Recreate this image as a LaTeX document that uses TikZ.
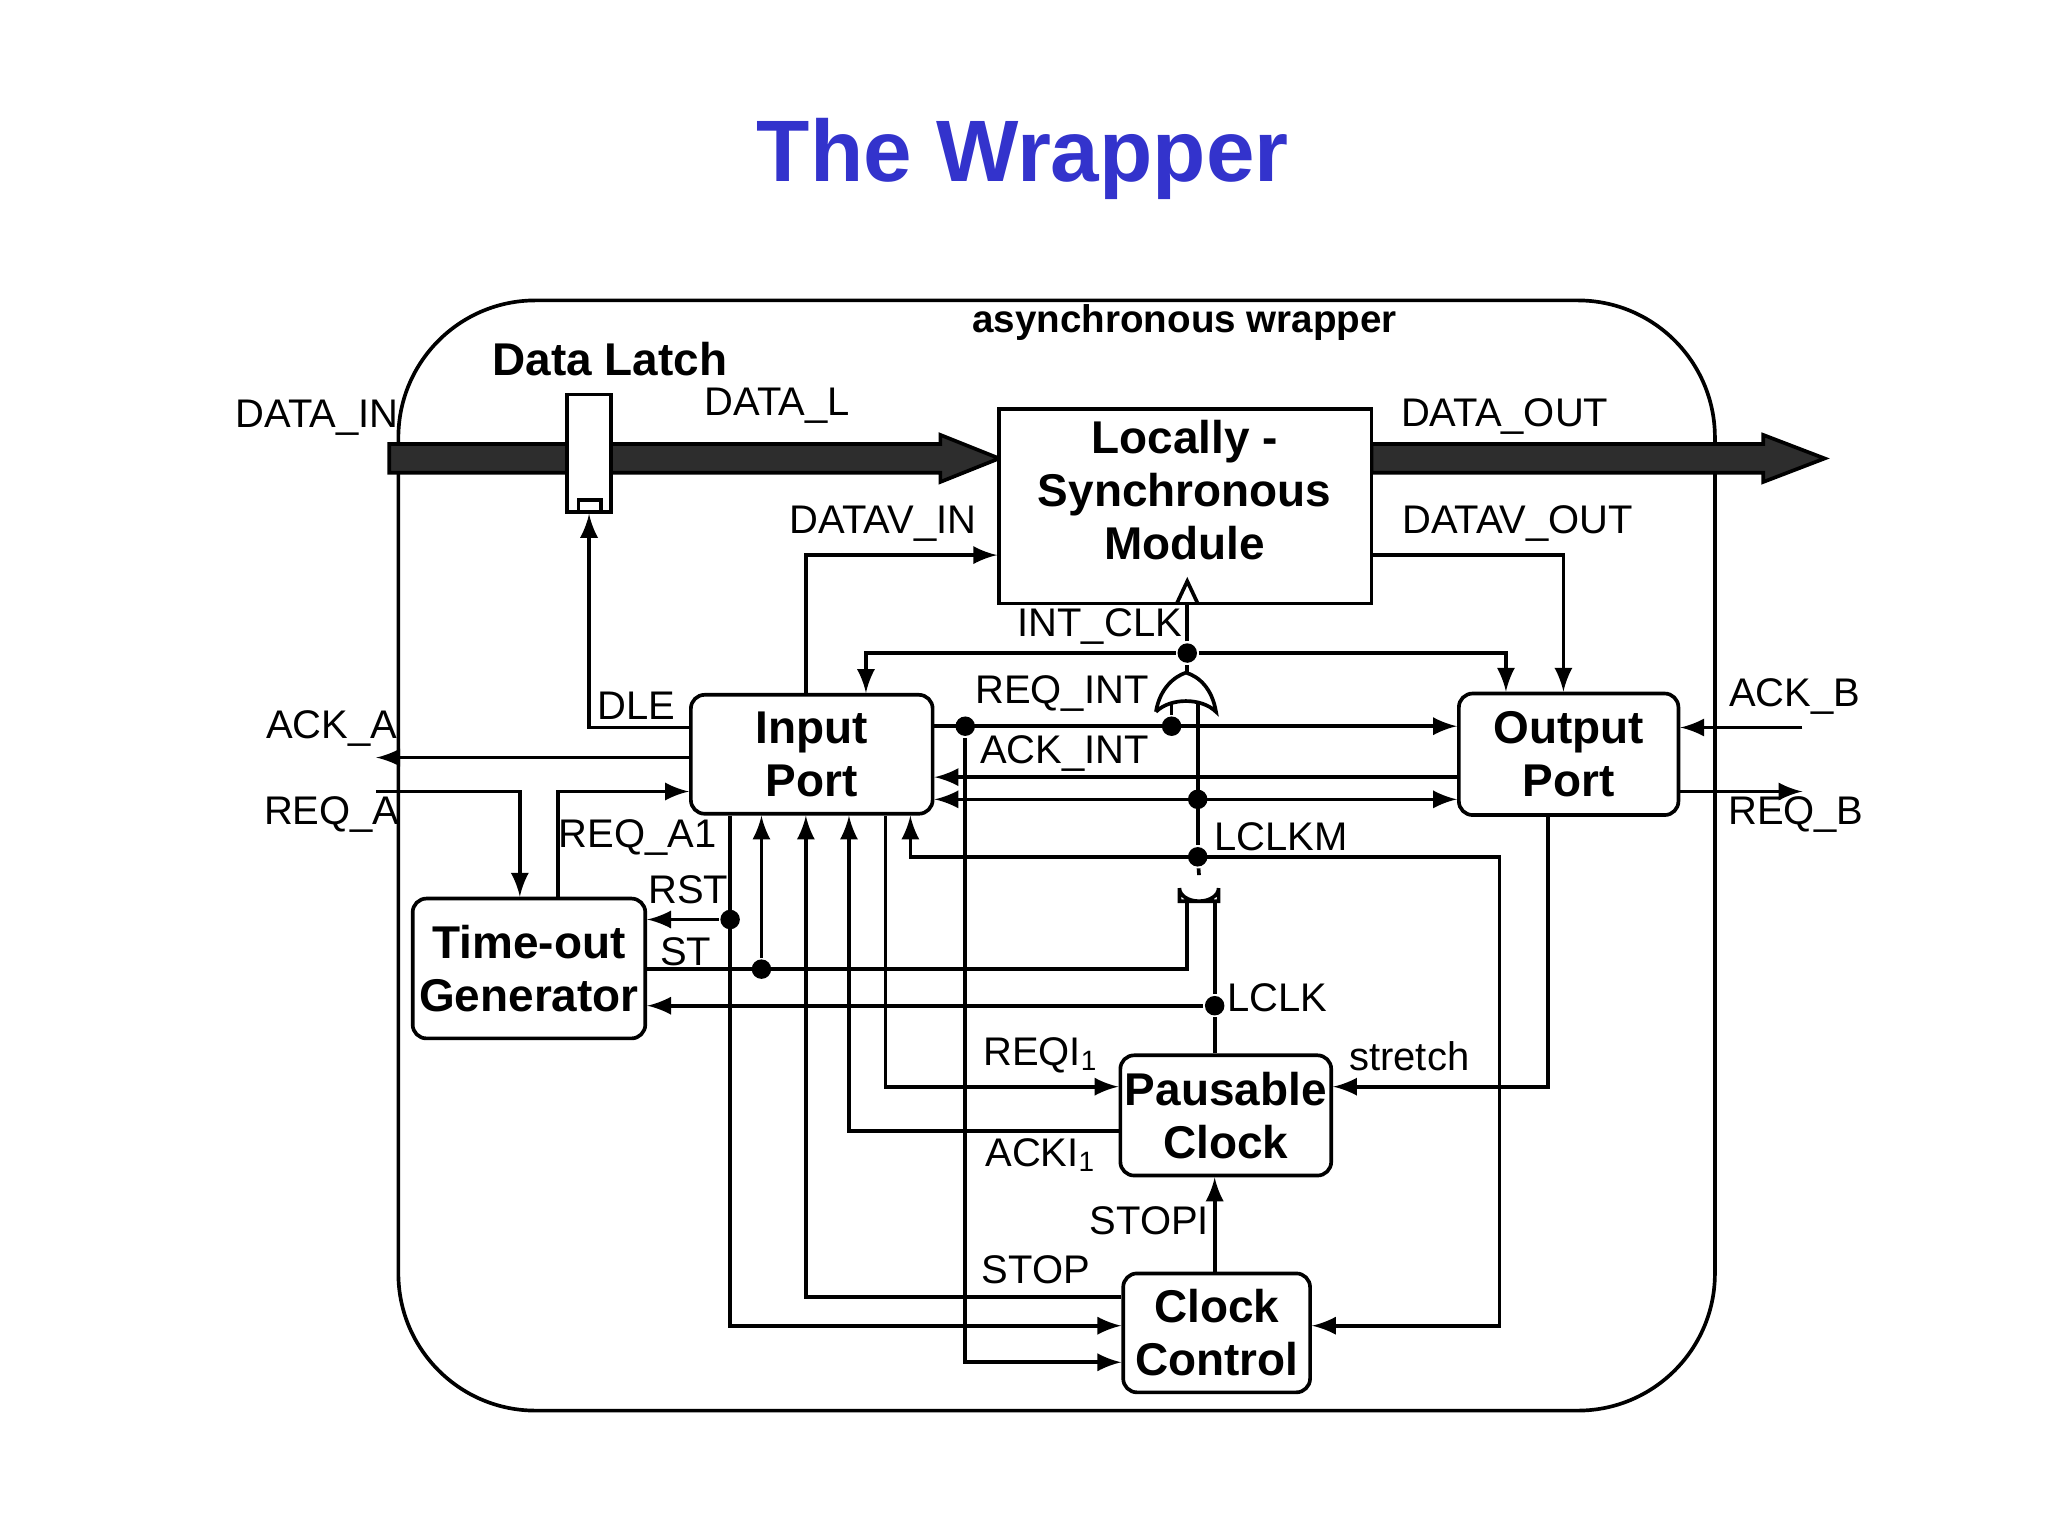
\documentclass[tikz,border=0pt]{standalone}
\usepackage{fontspec}
\setmainfont{Liberation Sans}
\usetikzlibrary{positioning}
\definecolor{titleblue}{RGB}{51,51,204}
\definecolor{busgray}{RGB}{45,45,45}
\tikzset{
  blk/.style={draw,thick,rounded corners=3pt,font=\fontsize{10}{11.5}\selectfont\bfseries,align=center,inner sep=1pt},
  lbl/.style={font=\fontsize{8.7}{10}\selectfont,inner sep=1pt},
  sig/.style={thick,-latex},
  wire/.style={thick},
  dot/.style={circle,fill,inner sep=1.5pt}
}
\begin{document}
\begin{tikzpicture}[x=0.01cm,y=-0.01cm,thick,every text node part/.style={align=center}]
    \useasboundingbox (0,0) rectangle (1568,1176);

    % --------------------------------------------------------- %
    % ------------- title and wrapper
    % --------------------------------------------------------- %
    \node[font=\fontsize{19}{22}\selectfont\bfseries,text=titleblue] (title) at (783,122) {The Wrapper};
    \draw[thick,rounded corners=1.05cm] (305,230) rectangle (1313,1080);
    \node[font=\fontsize{8.4}{10}\selectfont\bfseries] (wrap) at (907,247) {asynchronous wrapper};

    % --------------------------------------------------------- %
    % ------------- data bus
    % --------------------------------------------------------- %
    \fill[busgray,draw=black] (298,340) -- (720,340) -- (720,333) -- (765,351) -- (720,369) -- (720,362) -- (298,362) -- cycle;
    \fill[busgray,draw=black] (1050,340) -- (1350,340) -- (1350,333) -- (1397,351) -- (1350,369) -- (1350,362) -- (1050,362) -- cycle;
    \node[draw,thick,fill=white,minimum width=0.34cm,minimum height=0.9cm,inner sep=0pt] (latch) at (451,347) {};
    \draw[thick] (443,383) rectangle (460,392);
    \node[font=\fontsize{10}{12}\selectfont\bfseries] (dlatch) at (467,275) {Data Latch};
    \node[lbl] (datain) at (243,320) {DATA\_IN};
    \node[lbl] (datal) at (595,311) {DATA\_L};
    \node[lbl] (dataout) at (1152,319) {DATA\_OUT};

    % --------------------------------------------------------- %
    % ------------- blocks
    % --------------------------------------------------------- %
    \node[blk,rounded corners=0pt,minimum width=2.85cm,minimum height=1.49cm,fill=white] (lsm) at (907.5,387.5) {};
    \node[blk,draw=none] (lsmt) at (907,375) {Locally -\\Synchronous\\Module};
    \node[blk,minimum width=1.85cm,minimum height=0.91cm] (ip) at (621.5,577.5) {Input\\Port};
    \node[blk,minimum width=1.68cm,minimum height=0.93cm] (op) at (1201,577.5) {Output\\Port};
    \node[blk,align=left,minimum width=1.78cm,minimum height=1.07cm] (tog) at (405,741.5) {Time-out\\Generator};
    \node[blk,minimum width=1.57cm,minimum height=0.92cm] (pc) at (938.5,854) {Pausable\\Clock};
    \node[blk,minimum width=1.43cm,minimum height=0.91cm] (cc) at (931.5,1020.5) {Clock\\Control};

    % --------------------------------------------------------- %
    % ------------- gates
    % --------------------------------------------------------- %
    \draw[thick,fill=white] (885,545) .. controls (888,527) and (899,518) .. (908,515) .. controls (918,518) and (928,527) .. (931,545) .. controls (920,534) and (896,534) .. (885,545);
    \draw[thick,fill=white] (903,690) -- (903,680) arc (180:0:15 and 10) -- (933,690) -- cycle;
    \draw[thick] (901,462) -- (909,445) -- (917,462);

    % --------------------------------------------------------- %
    % ------------- junctions
    % --------------------------------------------------------- %
    \node[dot] (jclk) at (909,500) {};
    \node[dot] (jreq) at (739,556) {};
    \node[dot] (jor) at (897,556) {};
    \node[dot] (jmid) at (917,612) {};
    \node[dot] (jlclkm) at (917,656) {};
    \node[dot] (jrst) at (559,704) {};
    \node[dot] (jst) at (583,742) {};
    \node[dot] (jlclk) at (930,770) {};

    % --------------------------------------------------------- %
    % ------------- connectors
    % --------------------------------------------------------- %
    \draw[wire] (909,515) -- (jclk) -- (909,462);
    \draw[sig] (jclk) -| (ip.north -| 663,0);
    \draw[sig] (jclk) -| (op.north -| 1153,0);
    \draw[sig] (ip.north -| 617,0) |- (lsm.west |- 0,425);
    \draw[sig] (lsm.east |- 0,425) -| (op.north -| 1197,0);
    \draw[sig] (ip.east |- jreq) -- (op.west |- jreq);
    \draw[wire] (jor) -- (897,539);
    \draw[wire] (917,539) -- (jlclkm);
    \draw[sig] (op.west |- 0,595) -- (ip.east |- 0,595);
    \draw[sig,latex-latex] (ip.east |- jmid) -- (op.west |- jmid);
    \draw[sig] (1148,656) -- (697,656) -- (ip.south -| 697,0);
    \draw[sig] (jlclkm) -- (1148,656) |- (cc.east |- 0,1015);
    \draw[wire] (918,670) -- (jlclkm);
    \draw[sig] (ip.west |- 0,557) -| (latch.south);
    \draw[sig] (ip.west |- 0,580) -- (288,580);
    \draw[sig] (288,606) -| (tog.north -| 398,0);
    \draw[sig] (tog.north -| 427,0) |- (ip.west |- 0,606);
    \draw[sig] (jrst) -- (tog.east |- jrst);
    \draw[sig] (ip.south -| 559,0) |- (cc.west |- 0,1015);
    \draw[wire] (tog.east |- jst) -| (909,690);
    \draw[sig] (jst) -- (ip.south -| jst);
    \draw[wire] (930,690) -- (jlclk);
    \draw[sig] (jlclk) -- (tog.east |- jlclk);
    \draw[wire] (jlclk) -- (pc.north -| jlclk);
    \draw[sig] (jreq) |- (cc.west |- 0,1043);
    \draw[sig] (cc.west |- 0,993) -| (ip.south -| 617,0);
    \draw[sig] (pc.west |- 0,866) -| (ip.south -| 650,0);
    \draw[sig] (ip.south -| 678,0) |- (pc.west |- 0,832);
    \draw[sig] (op.south -| 1185,0) |- (pc.east |- 0,832);
    \draw[sig] (cc.north -| 930,0) -- (pc.south -| 930,0);
    \draw[sig] (1380,557) -- (op.east |- 0,557);
    \draw[sig] (op.east |- 0,606) -- (1380,606);

    % --------------------------------------------------------- %
    % ------------- signal labels
    % --------------------------------------------------------- %
    \node[lbl] (ldatavin) at (676,401) {DATAV\_IN};
    \node[lbl] (ldatavout) at (1162,401) {DATAV\_OUT};
    \node[lbl] (lintclk) at (842,480) {INT\_CLK};
    \node[lbl] (lreqint) at (813,531) {REQ\_INT};
    \node[lbl] (lackint) at (815,577) {ACK\_INT};
    \node[lbl] (llclkm) at (981,641) {LCLKM};
    \node[lbl] (lacka) at (254,558) {ACK\_A};
    \node[lbl] (lreqa) at (254,624) {REQ\_A};
    \node[lbl] (lreqa1) at (488,641) {REQ\_A1};
    \node[lbl] (ldle) at (487,540) {DLE};
    \node[lbl] (lrst) at (527,681) {RST};
    \node[lbl] (lst) at (525,729) {ST};
    \node[lbl] (llclk) at (978,764) {LCLK};
    \node[lbl] (lreqi) at (797,808) {REQI\textsubscript{1}};
    \node[lbl] (lacki) at (797,884) {ACKI\textsubscript{1}};
    \node[lbl] (lstretch) at (1079,809) {stretch};
    \node[lbl] (lstopi) at (880,935) {STOPI};
    \node[lbl] (lstop) at (793,972) {STOP};
    \node[lbl] (lackb) at (1374,533) {ACK\_B};
    \node[lbl] (lreqb) at (1375,624) {REQ\_B};

  \end{tikzpicture}
\end{document}
